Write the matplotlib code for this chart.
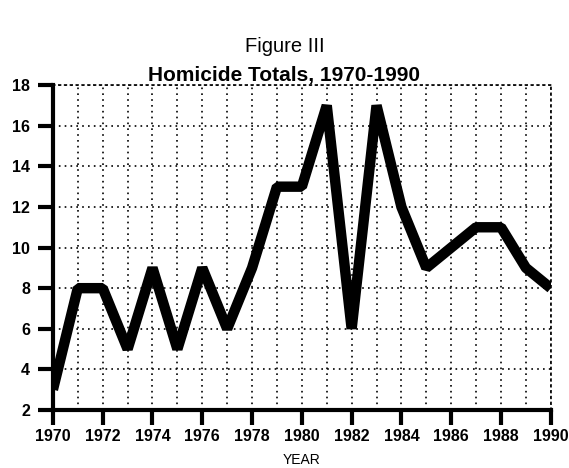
import numpy as np
import matplotlib.pyplot as plt

# données
years = list(range(1970, 1991))
homicides = [3, 8, 8, 5, 9, 5, 9, 6, 9, 13, 13, 17, 6, 17, 12, 9, 10, 11, 11, 9, 8]
year_ticks = list(range(1970, 1991, 2))
count_ticks = list(range(2, 19, 2))

plt.rcParams['font.family'] = ['Liberation Sans', 'DejaVu Sans']

fig = plt.figure(figsize=(5.69, 4.68), dpi=100)
ax = fig.add_axes([0.093, 0.124, 0.875, 0.694])

ax.plot(years, homicides, color="black", lw=7.5, solid_joinstyle="bevel",
        solid_capstyle="butt", zorder=3)

ax.set_xlim(1970, 1990)
ax.set_ylim(2, 18)
ax.set_xticks(year_ticks)
ax.set_xticks(years, minor=True)
ax.set_yticks(count_ticks)
ax.tick_params(axis="x", which="minor", length=0)
ax.tick_params(axis="both", which="major", direction="out", length=10.5, width=3,
               labelsize=11.5)
ax.tick_params(axis="x", which="major", pad=3)
ax.tick_params(axis="y", which="major", pad=6)
for lab in ax.get_xticklabels() + ax.get_yticklabels():
    lab.set_fontweight("bold")

# grille pointillée
ax.grid(True, which="both", axis="x", linestyle=(0, (1, 2.5)), color="black", lw=1.2)
ax.grid(True, which="major", axis="y", linestyle=(0, (1, 2.5)), color="black", lw=1.2)

for side in ("top", "right"):
    ax.spines[side].set_linestyle((0, (1, 2.5)))
    ax.spines[side].set_linewidth(1.2)
for side in ("left", "bottom"):
    ax.spines[side].set_linewidth(3)

ax.set_xlabel("YEAR", fontsize=10, labelpad=7)

fig.text(0.5, 0.888, "Figure III", ha="center", fontsize=14.5)
fig.text(0.5, 0.826, "Homicide Totals, 1970-1990", ha="center", fontsize=15,
         fontweight="bold")

fig.savefig("out.png", dpi=100)
